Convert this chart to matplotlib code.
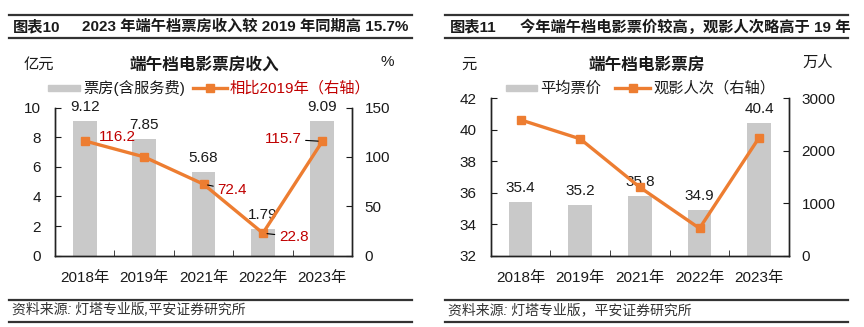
import matplotlib
matplotlib.use('Agg')
import matplotlib.pyplot as plt
from matplotlib.lines import Line2D
from matplotlib.patches import Rectangle

plt.rcParams['font.family'] = ['Liberation Sans', 'Noto Sans CJK SC', 'DejaVu Sans']

# ---------------- data ----------------
categories = ['2018年', '2019年', '2021年', '2022年', '2023年']
box_office = [9.12, 7.85, 5.68, 1.79, 9.09]            # 亿元
vs_2019 = [116.2, 100.0, 72.4, 22.8, 115.7]             # %
vs_2019_labels = ['116.2', None, '72.4', '22.8', '115.7']
avg_price = [35.4, 35.2, 35.8, 34.9, 40.4]              # 元
attendance = [2585, 2223, 1303, 522, 2248]               # 万人

W, H = 864, 327
fig = plt.figure(figsize=(W / 100, H / 100), dpi=100)


def fx(x):
    return x / W


def fy(y):
    return 1 - y / H


BAR = '#C9C9C9'
ORANGE = '#ED7D31'
RED = '#C00000'
DARK = '#1A1A1A'
FS = 11

# ---------------- header / footer frames ----------------
for (x0, x1) in [(9, 412), (445, 848)]:
    for y, lw in [(15, 1.6), (38, 1.6), (300, 1.6), (321.5, 1.6)]:
        fig.add_artist(Line2D([fx(x0), fx(x1)], [fy(y), fy(y)], color='#333333', lw=lw))

fig.text(fx(13), fy(27), '图表10', fontsize=FS, fontweight='bold', va='center', color=DARK)
fig.text(fx(82), fy(27), '2023 年端午档票房收入较 2019 年同期高 15.7%', fontsize=FS,
         fontweight='bold', va='center', color=DARK)
fig.text(fx(450), fy(27), '图表11', fontsize=FS, fontweight='bold', va='center', color=DARK)
fig.text(fx(520), fy(27), '今年端午档电影票价较高，观影人次略高于 19 年', fontsize=FS,
         fontweight='bold', va='center', color=DARK)

fig.text(fx(12), fy(310), '资料来源: 灯塔专业版,平安证券研究所', fontsize=10, style='italic',
         va='center', color='#333333')
fig.text(fx(448), fy(310), '资料来源: 灯塔专业版，平安证券研究所', fontsize=10, style='italic',
         va='center', color='#333333')

# ---------------- chart titles, units, legends ----------------
fig.text(fx(204), fy(65), '端午档电影票房收入', fontsize=12, fontweight='bold', ha='center',
         va='center', color=DARK)
fig.text(fx(38.5), fy(65), '亿元', fontsize=FS, ha='center', va='center', color=DARK)
fig.text(fx(387), fy(62), '%', fontsize=FS, ha='center', va='center', color=DARK)

fig.text(fx(647), fy(65), '端午档电影票房', fontsize=12, fontweight='bold', ha='center',
         va='center', color=DARK)
fig.text(fx(469), fy(65), '元', fontsize=FS, ha='center', va='center', color=DARK)
fig.text(fx(818), fy(63), '万人', fontsize=FS, ha='center', va='center', color=DARK)

LY = 88.3


def legend_bar(x0, x1, text, color=DARK):
    fig.add_artist(Rectangle((fx(x0), fy(LY + 3)), fx(x1) - fx(x0), 6 / H, color=BAR,
                             transform=fig.transFigure))
    fig.text(fx(x1 + 3), fy(LY), text, fontsize=FS, va='center', color=color)


def legend_line(x0, x1, text, color=DARK):
    fig.add_artist(Line2D([fx(x0), fx(x1)], [fy(LY), fy(LY)], color=ORANGE, lw=2.4))
    fig.add_artist(Line2D([fx((x0 + x1) / 2)], [fy(LY)], color=ORANGE, marker='s', ms=6,
                          lw=0))
    fig.text(fx(x1 + 3), fy(LY), text, fontsize=FS, va='center', color=color)


legend_bar(48, 80, '票房(含服务费)')
legend_line(193, 227, '相比2019年（右轴）', color=RED)
legend_bar(506, 537, '平均票价')
legend_line(615, 650, '观影人次（右轴）')

# ---------------- axes helpers ----------------
x = list(range(len(categories)))


def style_axes(ax, ax2):
    for a in (ax, ax2):
        a.spines['top'].set_visible(False)
        for s in ('left', 'right', 'bottom'):
            a.spines[s].set_color('#222222')
            a.spines[s].set_linewidth(1.0)
    ax.set_xlim(-0.5, len(categories) - 0.5)
    ax.set_xticks(x)
    ax.set_xticklabels(categories)
    ax.set_xticks([i + 0.5 for i in x[:-1]], minor=True)
    ax.tick_params(axis='x', which='major', length=0, pad=11, labelsize=FS, colors=DARK)
    ax.tick_params(axis='x', which='minor', direction='in', length=4, color='#222222')
    ax.tick_params(axis='y', direction='in', length=4, pad=10, labelsize=FS, colors=DARK)
    ax2.tick_params(axis='y', direction='in', length=4, pad=9, labelsize=FS, colors=DARK)


# ---------------- left chart ----------------
ax1 = fig.add_axes([fx(55), fy(255.7), (352 - 55) / W, (255.7 - 107.5) / H])
ax1b = ax1.twinx()
ax1.bar(x, box_office, width=0.4, color=BAR, zorder=2)
ax1.set_ylim(0, 10)
ax1.set_yticks([0, 2, 4, 6, 8, 10])
ax1b.set_ylim(0, 150)
ax1b.set_yticks([0, 50, 100, 150])
style_axes(ax1, ax1b)
for xi, v in zip(x, box_office):
    ax1.annotate(f'{v:.2f}', (xi, v), xytext=(0, 10), textcoords='offset points',
                 ha='center', va='center', fontsize=FS, color=DARK)
ax1b.plot(x, vs_2019, color=ORANGE, lw=2.4, marker='s', ms=6, zorder=3)

lab_cfg = [
    ((10, 2.6), 'left', False),
    None,
    ((10, -4.2), 'left', True),
    ((11.5, -2.5), 'left', True),
    ((-15, 1.7), 'right', True),
]
for xi, v, lab, cfg in zip(x, vs_2019, vs_2019_labels, lab_cfg):
    if lab is None:
        continue
    off, ha, leader = cfg
    kw = {}
    if leader:
        kw['arrowprops'] = dict(arrowstyle='-', color='black', lw=0.8, shrinkA=1, shrinkB=3)
    ax1b.annotate(lab, (xi, v), xytext=off, textcoords='offset points', ha=ha, va='center',
                  fontsize=FS, color=RED, zorder=5, **kw)

# ---------------- right chart ----------------
ax3 = fig.add_axes([fx(490.7), fy(255.8), (789 - 490.7) / W, (255.8 - 98) / H])
ax3b = ax3.twinx()
ax3.bar(x, avg_price, width=0.4, color=BAR, zorder=2)
ax3.set_ylim(32, 42)
ax3.set_yticks([32, 34, 36, 38, 40, 42])
ax3b.set_ylim(0, 3000)
ax3b.set_yticks([0, 1000, 2000, 3000])
style_axes(ax3, ax3b)
for xi, v in zip(x, avg_price):
    ax3.annotate(f'{v:.1f}', (xi, v), xytext=(0, 10), textcoords='offset points',
                 ha='center', va='center', fontsize=FS, color=DARK)
ax3b.plot(x, attendance, color=ORANGE, lw=2.4, marker='s', ms=6, zorder=3)

fig.savefig('out.png', dpi=100)
